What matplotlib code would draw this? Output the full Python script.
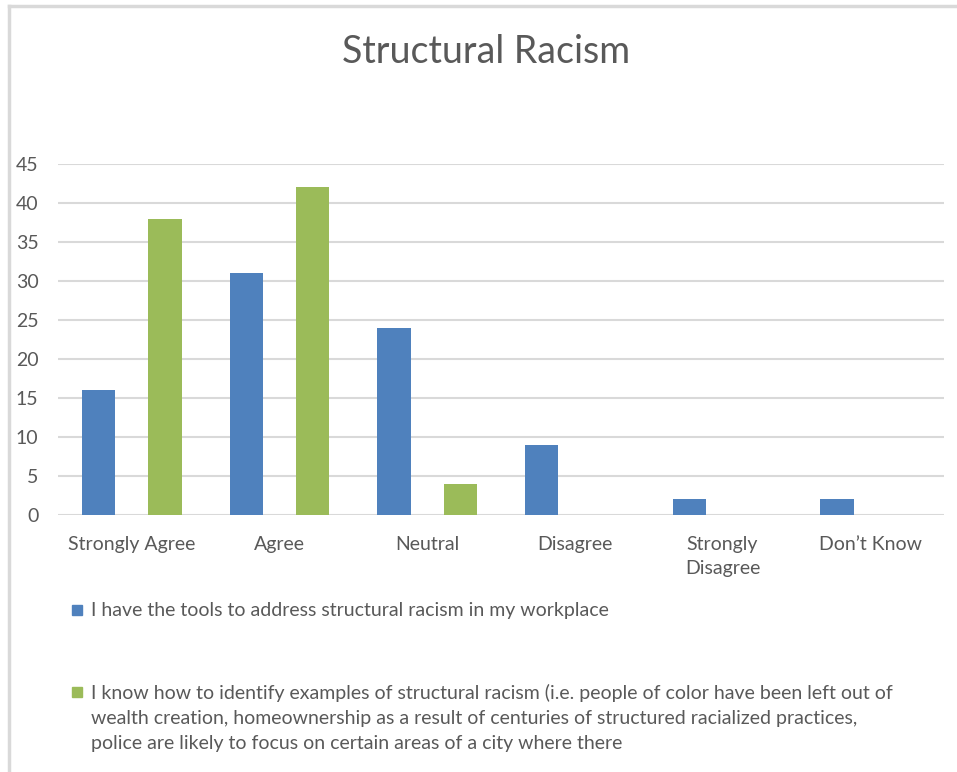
import matplotlib.pyplot as plt
from matplotlib.patches import Rectangle
from matplotlib.lines import Line2D
import numpy as np

categories = ["Strongly Agree", "Agree", "Neutral", "Disagree", "Strongly\nDisagree", "Don\u2019t Know"]
tools = [16, 31, 24, 9, 2, 2]
identify = [38, 42, 4, 0, 0, 0]
series_labels = [
    "I have the tools to address structural racism in my workplace",
    "I know how to identify examples of structural racism (i.e. people of color have been left out of\n"
    "wealth creation, homeownership as a result of centuries of structured racialized practices,\n"
    "police are likely to focus on certain areas of a city where there",
]
colors = ["#4f81bd", "#9bbb59"]
yticks = list(range(0, 50, 5))

plt.rcParams['font.family'] = ['Lato', 'DejaVu Sans']
txt = "#595959"
grid = "#d9d9d9"

W, H = 957, 772
fig = plt.figure(figsize=(W / 100, H / 100), dpi=100)
ax = fig.add_axes([58 / W, 1 - 515 / H, (944 - 58) / W, (515 - 164) / H])

x = np.arange(len(categories))
w = 0.225
ax.bar(x - w, tools, w, color=colors[0], zorder=3)
ax.bar(x + w, identify, w, color=colors[1], zorder=3)

ax.set_xlim(-0.5, len(categories) - 0.5)
ax.set_ylim(0, 45)
ax.set_yticks(yticks)
ax.set_xticks(x)
ax.set_xticklabels(categories, fontsize=14, color=txt, linespacing=1.5)
ax.tick_params(axis='y', labelsize=14, labelcolor=txt, length=0, pad=14)
ax.tick_params(axis='x', length=0, pad=15)
ax.grid(axis='y', color=grid, linewidth=1.5, zorder=0)
for s in ax.spines.values():
    s.set_visible(False)

fig.text(486 / W, 1 - 52 / H, "Structural Racism", fontsize=27, color=txt,
         ha='center', va='center')

# legend drawn by hand so the marker sits on the first line
leg_y = [610, 692]
for col, lab, yy in zip(colors, series_labels, leg_y):
    fig.patches.append(Rectangle((72 / W, 1 - (yy + 5) / H), 10 / W, 10 / H,
                                 transform=fig.transFigure, color=col))
    fig.text(91 / W, 1 - (yy - 8) / H, lab, fontsize=14, color=txt,
             ha='left', va='top', linespacing=1.58)

# frame of the screenshot
fig.add_artist(Line2D([8.5 / W, 8.5 / W], [0, 1 - 6 / H], color=grid, lw=2.5))
fig.add_artist(Line2D([8.5 / W, 1], [1 - 6 / H, 1 - 6 / H], color=grid, lw=2.5))

fig.savefig("out.png", dpi=100)
